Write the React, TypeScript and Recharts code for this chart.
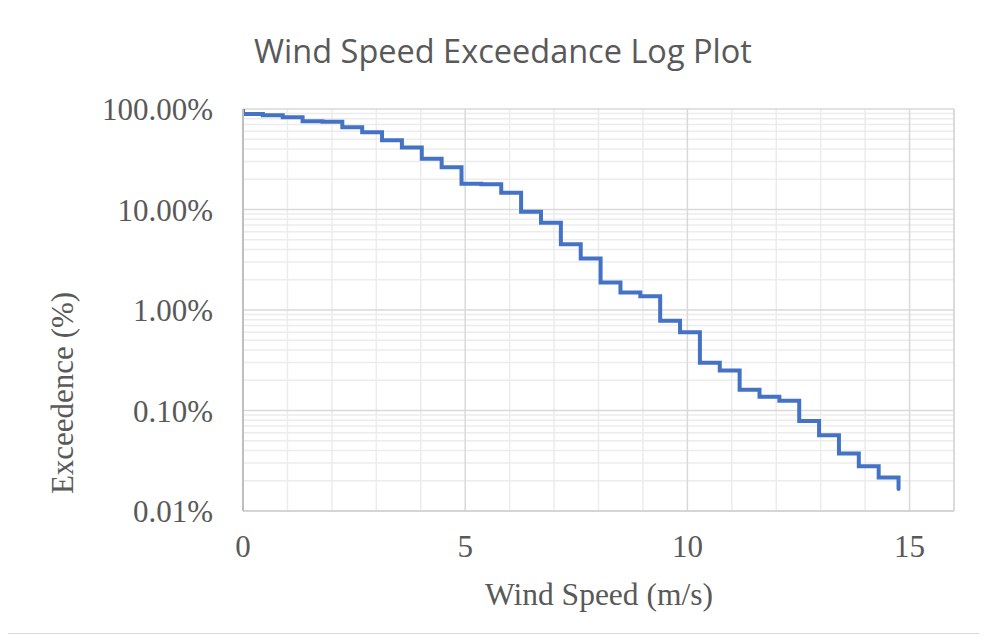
import React from 'react';
import {
  LineChart,
  Line,
  XAxis,
  YAxis,
  CartesianGrid,
  ReferenceLine,
  Customized,
} from 'recharts';

// Bin edges in m/s (1 mph steps) and exceedance probability (%) from each edge
const windSpeed = [
  0, 0, 0.447, 0.894, 1.341, 1.788, 2.235, 2.682, 3.129, 3.576, 4.023, 4.47,
  4.917, 5.364, 5.811, 6.258, 6.706, 7.153, 7.6, 8.047, 8.494, 8.941, 9.388,
  9.835, 10.282, 10.729, 11.176, 11.623, 12.07, 12.517, 12.964, 13.411, 13.858,
  14.305, 14.752,
];
const exceedance = [
  100, 89.2, 86.6, 82.7, 75.6, 74.8, 65.7, 58.6, 48.9, 41.3, 32.0, 26.3, 18.0,
  17.8, 14.7, 9.5, 7.4, 4.5, 3.25, 1.88, 1.49, 1.37, 0.78, 0.6, 0.298, 0.25,
  0.161, 0.137, 0.125, 0.0786, 0.0566, 0.0373, 0.0279, 0.0215, 0.0166,
];

const xTicks = [0, 5, 10, 15];
const yTicks = [0.01, 0.1, 1, 10, 100];
const xMinor = [1, 2, 3, 4, 6, 7, 8, 9, 11, 12, 13, 14];
const yMinor = [
  0.02, 0.03, 0.04, 0.05, 0.06, 0.07, 0.08, 0.09,
  0.2, 0.3, 0.4, 0.5, 0.6, 0.7, 0.8, 0.9,
  2, 3, 4, 5, 6, 7, 8, 9,
  20, 30, 40, 50, 60, 70, 80, 90,
];

const data = windSpeed.map((x, i) => ({ x, y: exceedance[i] }));

const TEXT = '#595959';
const SERIF = '"Liberation Serif", "Times New Roman", serif';
const MINOR = '#ececec';
const MAJOR = '#d9d9d9';

const W = 971;
const H = 625;

const Titles = () => (
  <g>
    <text
      x={495}
      y={55}
      textAnchor="middle"
      fill={TEXT}
      fontFamily='"Open Sans", sans-serif'
      fontSize={32.5}
    >
      Wind Speed Exceedance Log Plot
    </text>
    <text
      x={54}
      y={385}
      transform="rotate(-90 54 385)"
      textAnchor="middle"
      dominantBaseline="central"
      fill={TEXT}
      fontFamily={SERIF}
      fontSize={31}
    >
      Exceedence (%)
    </text>
    <text
      x={591}
      y={586}
      textAnchor="middle"
      dominantBaseline="central"
      fill={TEXT}
      fontFamily={SERIF}
      fontSize={31.5}
    >
      Wind Speed (m/s)
    </text>
  </g>
);

export default function App() {
  return (
    <div
      style={{
        marginLeft: -1,
        marginTop: -1,
        width: W + 2,
        height: H + 2,
        border: `1px solid ${MAJOR}`,
        boxSizing: 'border-box',
        background: '#fff',
      }}
    >
      <LineChart
        width={W}
        height={H}
        data={data}
        margin={{ top: 101, right: 25, bottom: 0, left: 0 }}
      >
        {xMinor.map((v) => (
          <ReferenceLine key={`vx${v}`} x={v} stroke={MINOR} strokeWidth={1.5} zIndex={-200} />
        ))}
        {yMinor.map((v) => (
          <ReferenceLine key={`hy${v}`} y={v} stroke={MINOR} strokeWidth={1.5} zIndex={-200} />
        ))}
        <CartesianGrid stroke={MAJOR} strokeWidth={1.5} />
        <ReferenceLine x={16} stroke={MAJOR} strokeWidth={1.5} zIndex={-100} />
        <XAxis
          type="number"
          dataKey="x"
          domain={[0, 16]}
          ticks={xTicks}
          interval={0}
          height={122}
          tickLine={false}
          tickSize={0}
          tickMargin={24}
          axisLine={{ stroke: '#d0d0d0', strokeWidth: 1.5 }}
          tick={{ fill: TEXT, fontSize: 31, fontFamily: SERIF }}
          allowDataOverflow
        />
        <YAxis
          type="number"
          scale="log"
          domain={[0.01, 100]}
          ticks={yTicks}
          interval={0}
          width={235}
          tickLine={false}
          tickSize={0}
          tickMargin={30}
          axisLine={{ stroke: '#bfbfbf', strokeWidth: 2 }}
          tick={{ fill: TEXT, fontSize: 31, fontFamily: SERIF }}
          tickFormatter={(v: number) => `${v.toFixed(2)}%`}
          allowDataOverflow
        />
        <Line
          type="stepAfter"
          dataKey="y"
          stroke="#4472C4"
          strokeWidth={4}
          strokeLinecap="round"
          strokeLinejoin="miter"
          dot={false}
          activeDot={false}
          isAnimationActive={false}
        />
        <Customized component={Titles} />
      </LineChart>
    </div>
  );
}
